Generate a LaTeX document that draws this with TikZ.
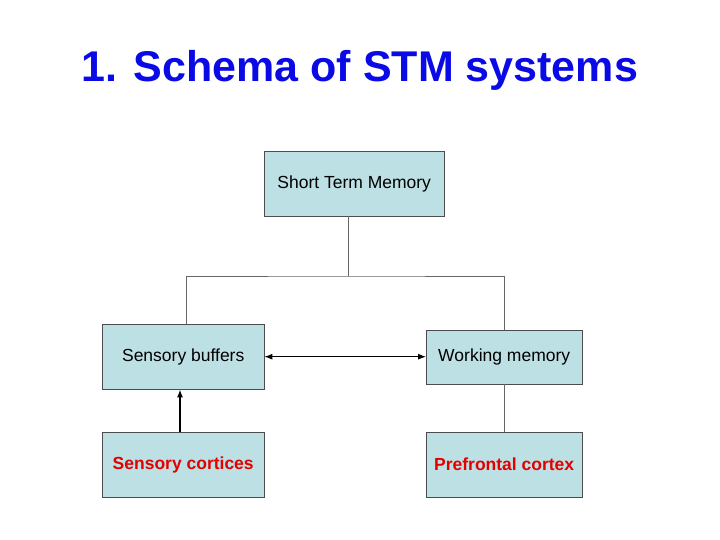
\documentclass[tikz,border=0pt]{standalone}
\usepackage{fontspec}
\setmainfont{Liberation Sans}
\usetikzlibrary{arrows.meta}
\begin{document}
\begin{tikzpicture}[x=1pt,y=-1pt,
  box/.style={draw=black!70,fill=boxfill,inner sep=0pt,anchor=north west,font=\fontsize{17.5}{20}\selectfont},
  red/.style={text=red!90!black,font=\fontsize{17.5}{20}\selectfont\bfseries},
  ln/.style={draw=black!60,line width=0.7pt}]
\definecolor{boxfill}{HTML}{BDE0E4}
\definecolor{ttl}{HTML}{0A0AE6}
\useasboundingbox (0,0) rectangle (720,540);
\node[text=ttl,font=\fontsize{43}{48}\selectfont\bfseries] (title) at (360,70) {1. Schema of STM systems};
\node[box,minimum width=180pt,minimum height=65pt] (stm) at (264,151) {Short Term Memory};
\node[box,minimum width=162pt,minimum height=65pt] (sb) at (102,324) {Sensory buffers};
\node[box,minimum width=156pt,minimum height=54pt] (wm) at (426,330) {Working memory};
\node[box,minimum width=162pt,minimum height=65pt,red] (sc) at (102,432) {Sensory cortices};
\node[box,minimum width=156pt,minimum height=65pt,red] (pf) at (426,432) {Prefrontal cortex};
\coordinate (j) at (348,276);
\draw[ln] (stm.south -| j) -- (j);
\draw[ln] (sb.north -| 186,0) |- (j) -| (wm.north -| 504,0);
\draw[line width=1pt,{Latex[length=8pt,width=6pt]}-{Latex[length=8pt,width=6pt]}] (sb.east) -- (sb.east -| wm.west);
\draw[line width=1.4pt,-{Latex[length=8pt,width=6pt]}] (sc.north -| 180,0) -- (sb.south -| 180,0);
\draw[ln] (wm.south -| 504,0) -- (pf.north -| 504,0);
\end{tikzpicture}
\end{document}
